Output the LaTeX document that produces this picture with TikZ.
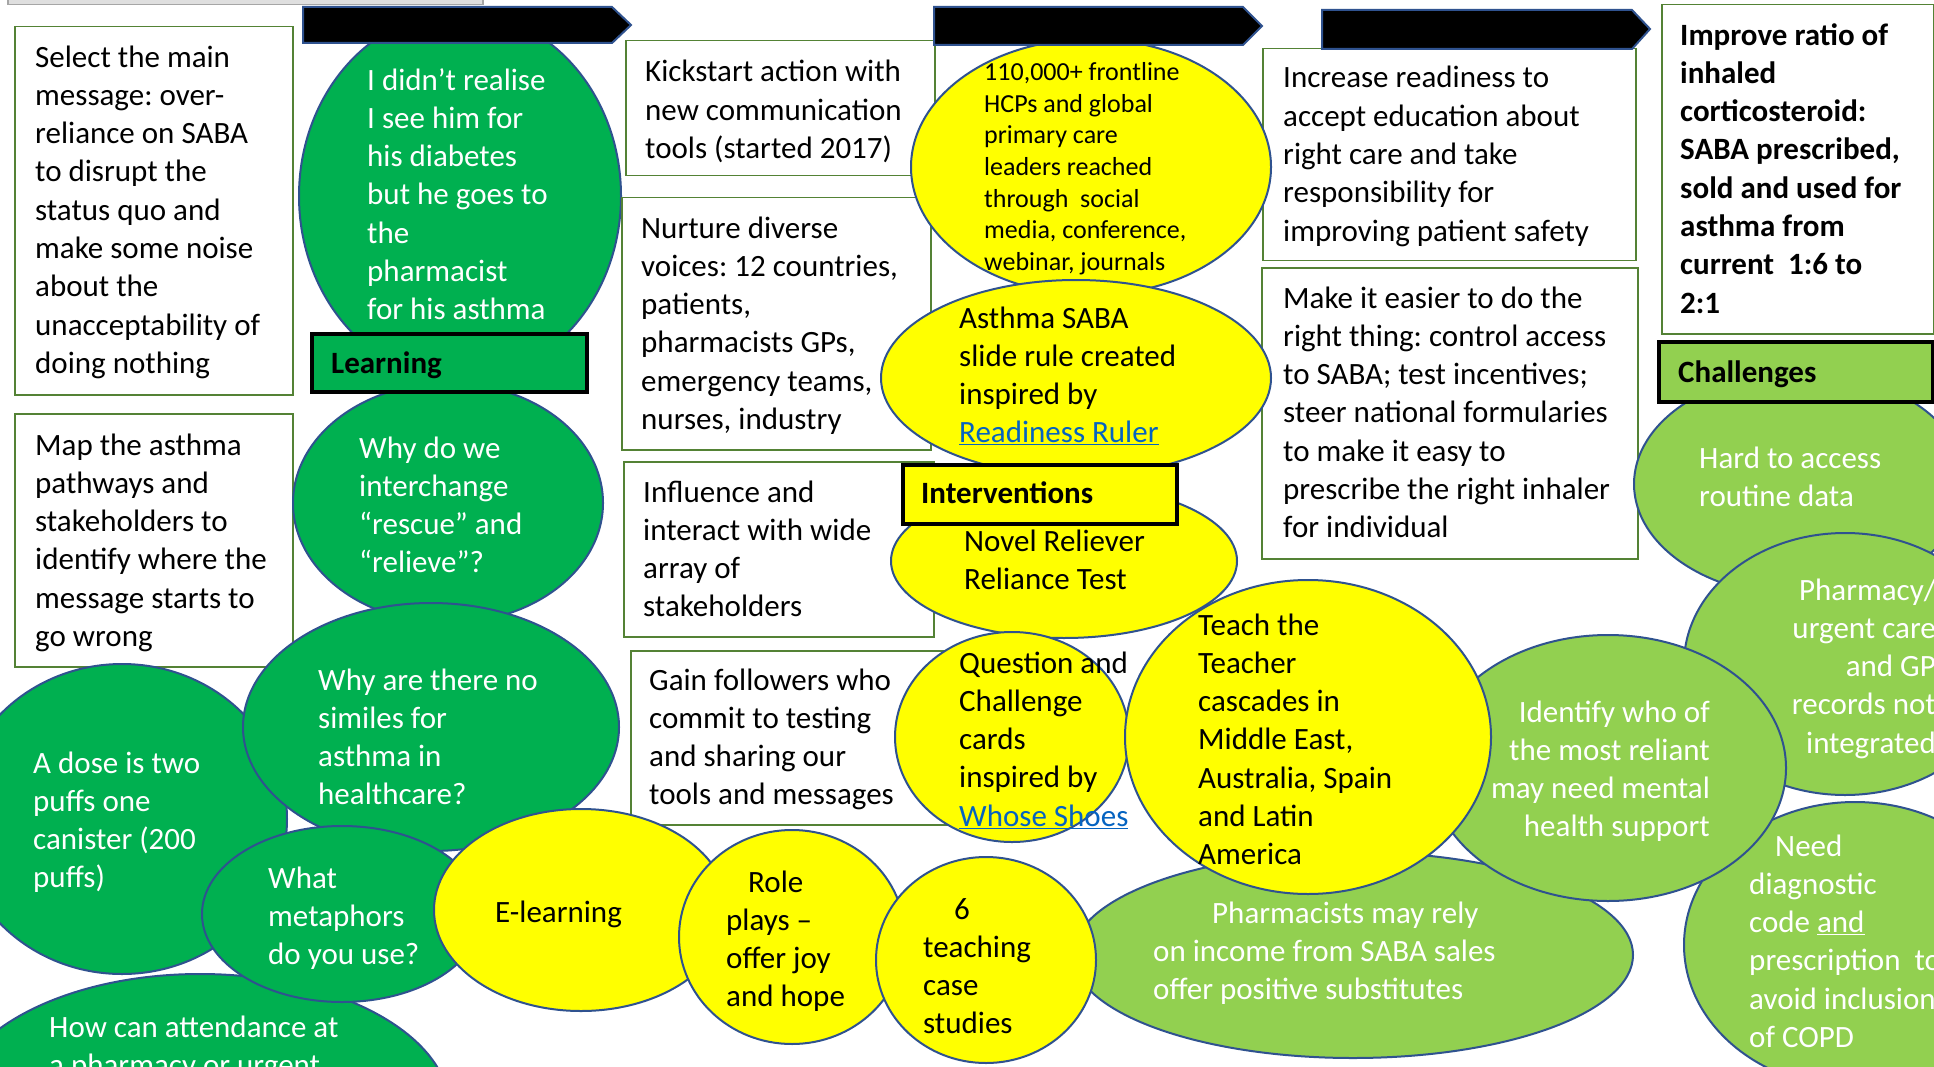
\documentclass[tikz,border=0pt]{standalone}
\usepackage{fontspec}
\setmainfont{Carlito}
\usetikzlibrary{shapes.geometric}
\definecolor{dg}{HTML}{00B050}
\definecolor{lg}{HTML}{92D050}
\definecolor{yl}{HTML}{FFFF00}
\definecolor{eb}{HTML}{2F528F}
\definecolor{bb}{HTML}{548235}
\definecolor{lk}{HTML}{0563C1}
\newcommand\tA{\fontsize{31pt}{38.3pt}\selectfont\frenchspacing}
\newcommand\tB{\fontsize{26pt}{31.7pt}\selectfont\frenchspacing}
\newcommand\lnk[1]{\textcolor{lk}{\underline{#1}}}
\frenchspacing
\begin{document}
\begin{tikzpicture}[x=1pt,y=-1pt,
 ell/.style={ellipse,draw=eb,line width=2pt,inner sep=0pt,outer sep=0pt},
 gell/.style={ell,fill=dg},
 lgell/.style={ell,fill=lg},
 yell/.style={ell,fill=yl},
 tbox/.style={rectangle,draw=bb,line width=1.5pt,fill=white,inner sep=0pt,anchor=north west},
 labbox/.style={rectangle,draw=black,line width=4pt,inner sep=0pt,anchor=north west},
 txt/.style={anchor=base west,align=left,inner sep=0pt,font=\tA},
 wtxt/.style={txt,text=white},
 btxt/.style={txt,font=\tA\bfseries},
 bar/.style={fill=black,draw=eb,line width=2pt,line join=miter}]
\useasboundingbox (0,0) rectangle (1934,1067);
\clip (0,0) rectangle (1934,1067);
\fill[white] (0,0) rectangle (1934,1067);
% top grey bar
\node[rectangle,draw=gray!70,fill=gray!25,line width=1.5pt,anchor=north west,minimum width=475pt,minimum height=20pt,inner sep=0pt] (topbar) at (7,-16) {};
% left column boxes
\node[tbox,minimum width=278pt,minimum height=368pt] (ba) at (14,26) {};
\node[txt] (ta) at (35,67+8*38.3) {Select the main\\message: over-\\reliance on SABA\\to disrupt the\\status quo and\\make some noise\\about the\\unacceptability of\\doing nothing};
\node[tbox,minimum width=278pt,minimum height=253pt] (bbx) at (14,413) {};
\node[txt] (tbx) at (35,455+5*38.3) {Map the asthma\\pathways and\\stakeholders to\\identify where the\\message starts to\\go wrong};
% learning ellipses
\node[gell,minimum width=322pt,minimum height=368pt] (e1) at (460,196) {};
\node[wtxt] (te1) at (367,90+6*38.3) {I didn’t realise\\I see him for\\his diabetes\\but he goes to\\the\\pharmacist\\for his asthma};
\draw[bar] (303,7) -- (612,7) -- (631,25) -- (612,43) -- (303,43) -- cycle;
\node[gell,minimum width=310pt,minimum height=240pt] (e2) at (448,503) {};
\node[wtxt] (te2) at (359,458+3*38.3) {Why do we\\interchange\\“rescue” and\\“relieve”?};
\node[labbox,fill=dg,minimum width=275pt,minimum height=58pt] (learn) at (310,332) {};
\node[btxt] (tlearn) at (331,373) {Learning};
\node[gell,minimum width=330pt,minimum height=310pt] (e4) at (122,819) {};
\node[wtxt] (te4) at (33,773+3*38.3) {A dose is two\\puffs one\\canister (200\\puffs)};
\node[gell,minimum width=500pt,minimum height=272pt] (e6) at (200,1110) {};
\node[wtxt] (te6) at (49,1037+38.3) {How can attendance at\\a pharmacy or urgent};
\node[gell,minimum width=376pt,minimum height=248pt] (e3) at (431,727) {};
\node[wtxt] (te3) at (318,690+3*38.3) {Why are there no\\similes for\\asthma in\\healthcare?};
\node[gell,minimum width=280pt,minimum height=176pt] (e5) at (342,914) {};
\node[wtxt] (te5) at (268,888+2*38.3) {What\\metaphors\\do you use?};
% middle boxes
\node[tbox,minimum width=309pt,minimum height=135pt] (bk) at (625,40) {};
\node[txt] (tk) at (645,82+2*38.3) {Kickstart action with\\new communication\\tools (started 2017)};
\node[tbox,minimum width=309pt,minimum height=252pt] (bn) at (621,197) {};
\node[txt] (tn) at (641,238+5*38.3) {Nurture diverse\\voices: 12 countries,\\patients,\\pharmacists GPs,\\emergency teams,\\nurses, industry};
\node[tbox,minimum width=310pt,minimum height=175pt] (bi) at (623,461) {};
\node[txt] (ti) at (643,502+3*38.3) {Influence and\\interact with wide\\array of\\stakeholders};
\node[tbox,minimum width=316pt,minimum height=174pt] (bg) at (630,650) {};
\node[txt] (tg) at (649,690+3*38.3) {Gain followers who\\commit to testing\\and sharing our\\tools and messages};
% right boxes
\node[tbox,minimum width=373pt,minimum height=212pt] (bir) at (1262,48) {};
\node[txt] (tir) at (1283,88+4*38.3) {Increase readiness to\\accept education about\\right care and take\\responsibility for\\improving patient safety};
\node[tbox,minimum width=376pt,minimum height=291pt] (bm) at (1261,267) {};
\node[txt] (tm) at (1283,308+6*38.3) {Make it easier to do the\\right thing: control access\\to SABA; test incentives;\\steer national formularies\\to make it easy to\\prescribe the right inhaler\\for individual};
\node[tbox,minimum width=272pt,minimum height=329pt] (bim) at (1661,4) {};
\node[btxt] (tim) at (1680,45+7*38.3) {Improve ratio of\\inhaled\\corticosteroid:\\SABA prescribed,\\sold and used for\\asthma from\\current~ 1:6 to\\2:1};
% interventions
\node[yell,minimum width=360pt,minimum height=256pt] (y1) at (1091,167) {};
\node[txt,font=\tB] (ty1) at (984,80.5+6*31.7) {110,000+ frontline\\HCPs and global\\primary care\\leaders reached\\through~ social\\media, conference,\\webinar, journals};
\draw[bar] (934,7) -- (1243,7) -- (1262,26) -- (1243,45) -- (934,45) -- cycle;
\node[yell,minimum width=390pt,minimum height=196pt] (y2) at (1076,378) {};
\node[txt] (ty2) at (959,328+3*38.3) {Asthma SABA\\slide rule created\\inspired by\\\lnk{Readiness Ruler}};
\node[yell,minimum width=346pt,minimum height=154pt] (y3) at (1064,561) {};
\node[txt] (ty3) at (964,551+38.3) {Novel Reliever\\Reliance Test};
\node[labbox,fill=yl,minimum width=274pt,minimum height=59pt] (interv) at (901,463) {};
\node[btxt] (tinterv) at (921,503) {Interventions};
\node[yell,minimum width=234pt,minimum height=210pt] (y4) at (1012,737) {};
\node[txt] (ty4) at (959,673+4*38.3) {Question and\\Challenge\\cards\\inspired by\\\lnk{Whose Shoes}};
% challenges
\node[lgell,minimum width=332pt,minimum height=224pt] (c1) at (1800,484) {};
\node[wtxt] (tc1) at (1699,468+38.3) {Hard to access\\routine data};
\node[labbox,fill=lg,minimum width=274pt,minimum height=60pt] (chal) at (1657,340) {};
\node[btxt] (tchal) at (1678,382) {Challenges};
\node[lgell,minimum width=322pt,minimum height=262pt] (c2) at (1845,664) {};
\node[wtxt,anchor=base east,align=right] (tc2) at (1936,600+4*38.3) {Pharmacy/\\urgent care\\and GP\\records not\\integrated};
\node[lgell,minimum width=342pt,minimum height=286pt] (c3) at (1855,945) {};
\node[wtxt] (tc3) at (1749,860+5*37.5) {\hspace*{26pt}Need\\diagnostic\\code \underline{and}\\prescription~ to\\avoid inclusion\\of COPD};
\node[lgell,minimum width=560pt,minimum height=206pt] (c4) at (1353,955) {};
\node[wtxt] (tc4) at (1153,923+2*38.3) {\hspace*{59pt}Pharmacists may rely\\on income from SABA sales\\offer positive substitutes};
% bottom yellow
\node[yell,minimum width=294pt,minimum height=202pt] (y5) at (581,910) {};
\node[txt] (ty5) at (495,922) {E-learning};
\node[yell,minimum width=226pt,minimum height=214pt] (y6) at (792,937) {};
\node[txt] (ty6) at (726,892+3*38.3) {\hspace*{22pt}Role\\plays –\\offer joy\\and hope};
\node[yell,minimum width=220pt,minimum height=206pt] (y7) at (986,960) {};
\node[txt] (ty7) at (923,919+3*38.3) {\hspace*{31pt}6\\teaching\\case\\studies};
\node[lgell,minimum width=356pt,minimum height=266pt] (c5) at (1608,768) {};
\node[wtxt,anchor=base east,align=right] (tc5) at (1710,722+3*38.3) {Identify who of\\the most reliant\\may need mental\\health support};
\node[yell,minimum width=366pt,minimum height=314pt] (y8) at (1308,737) {};
\node[txt] (ty8) at (1198,635+6*38.3) {Teach the\\Teacher\\cascades in\\Middle East,\\Australia, Spain\\and Latin\\America};
\draw[bar] (1322,10) -- (1632,10) -- (1650,29) -- (1632,49) -- (1322,49) -- cycle;
\end{tikzpicture}
\end{document}
